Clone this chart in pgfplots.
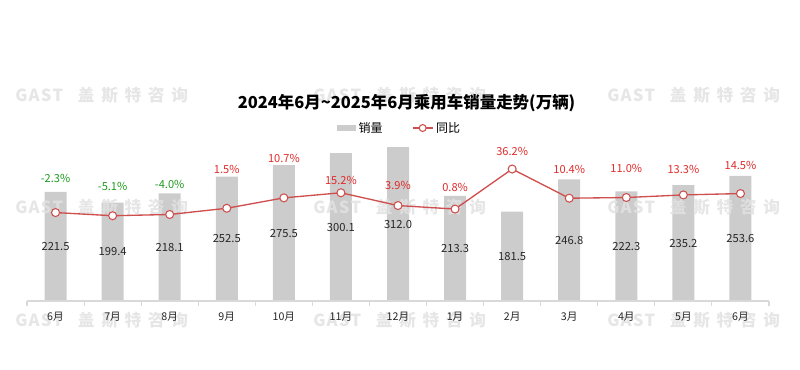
\documentclass[border=0pt]{standalone}
\usepackage{fontspec}
\setmainfont{Noto Sans CJK SC}
\usepackage{pgfplots}
\usepackage{pgfplotstable}
\pgfplotsset{compat=1.18}
\definecolor{barcol}{HTML}{CCCCCC}
\definecolor{linecol}{HTML}{CF4F4F}
\definecolor{redtxt}{HTML}{E02A2A}
\definecolor{greentxt}{HTML}{1E9A1E}
\definecolor{wmcol}{HTML}{E2E2E2}
\definecolor{axcol}{HTML}{D9D9D9}
\newcommand\wmtext{\bfseries\fontsize{12.5}{14}\selectfont\makebox[36pt][s]{G\hfill A\hfill S\hfill T}\hspace{8.5pt}\makebox[17.5pt]{盖}\makebox[17.5pt]{斯}\makebox[17.5pt]{特}\makebox[17.5pt]{咨}\makebox[17.5pt]{询}}
\pgfplotsset{
  barleg/.style={legend image code/.code={\fill[barcol] (0pt,-2.6pt) rectangle (14pt,2.6pt);}},
  lineleg/.style={legend image code/.code={\draw[##1, mark repeat=2, mark phase=2] plot coordinates {(0pt,0pt) (7.5pt,0pt) (15pt,0pt)};}},
}

\pgfplotstableread{
x v yoy ly
0 221.5 -2.3 28.2
1 199.4 -5.1 21.1
2 218.1 -4.0 22.9
3 252.5 1.5 36.2
4 275.5 10.7 45.9
5 300.1 15.2 26.4
6 312.0 3.9 22.0
7 213.3 0.8 20.2
8 181.5 36.2 52.1
9 246.8 10.4 36.2
10 222.3 11.0 37.1
11 235.2 13.3 36.2
12 253.6 14.5 39.7
}\datatable

\begin{document}
\begin{tikzpicture}
\path[use as bounding box] (0pt,0pt) rectangle (600pt,-276.75pt);

\begin{axis}[
  at={(20.25pt,-225.75pt)}, anchor=south west,
  scale only axis, width=556.5pt, height=127.5pt,
  xmin=-0.5, xmax=12.5, ymin=0, ymax=344.8,
  clip=false,
  axis lines=none,
  /pgf/number format/assume math mode=true,
  /pgf/number format/fixed,
  /pgf/number format/fixed zerofill,
  /pgf/number format/precision=1,
  legend style={at={(0.5027,1.0176)}, anchor=center, draw=none, fill=none,
    font=\fontsize{9}{10}\selectfont, inner sep=0pt,
    /tikz/every even column/.append style={column sep=20pt}},
  legend columns=2,
]
\addplot[ybar, fill=barcol, draw=none, bar width=16.5pt, barleg]
  table[x=x, y=v]{\datatable};
\addlegendentry{销量}
\addlegendimage{linecol, line width=1pt, mark=*, mark size=2.6pt, mark options={fill=white, draw=linecol, line width=0.8pt}, lineleg}
\addlegendentry{同比}
\addplot[draw=none, mark=none, forget plot, nodes near coords, point meta=explicit,
  nodes near coords style={anchor=center, font=\fontsize{8.4}{10}\selectfont, text=black!85}]
  table[x=x, y expr=\thisrow{v}/2, meta=v]{\datatable};
\end{axis}

\foreach \yy in {-71.25pt,-155.25pt,-240pt}{
  \foreach \xx in {11.25pt,234.75pt,455.25pt}{
    \node[anchor=west, inner sep=0pt, text=wmcol, opacity=0.85] at (\xx,\yy) {\wmtext};
  }
}

\begin{axis}[
  at={(20.25pt,-225.75pt)}, anchor=south west,
  scale only axis, width=556.5pt, height=127.5pt,
  xmin=-0.5, xmax=12.5, ymin=-80.5, ymax=69.8,
  clip=false,
  axis x line*=bottom, axis y line=none,
  x axis line style={axcol, line width=0.8pt},
  xtick={0,...,12},
  xticklabels={6月,7月,8月,9月,10月,11月,12月,1月,2月,3月,4月,5月,6月},
  major tick length=0pt,
  minor xtick={-0.5,0.5,...,12.5},
  minor tick length=3.75pt,
  tick align=outside,
  every minor tick/.style={axcol, line width=0.8pt},
  xticklabel style={font=\fontsize{8}{9}\selectfont, text=black!85, anchor=center, yshift=-12pt},
  /pgf/number format/assume math mode=true,
  /pgf/number format/fixed,
  /pgf/number format/fixed zerofill,
  /pgf/number format/precision=1,
]
\addplot[linecol, line width=1pt, mark=*, mark size=3pt,
  mark options={fill=white, draw=linecol, line width=0.8pt}]
  table[x=x, y=yoy]{\datatable};
\addplot[draw=none, mark=none, restrict x to domain=0:2,
  nodes near coords={\pgfmathprintnumber{\pgfplotspointmeta}\%}, point meta=explicit,
  nodes near coords style={anchor=center, font=\fontsize{8.3}{10}\selectfont, text=greentxt}]
  table[x=x, y=ly, meta=yoy]{\datatable};
\addplot[draw=none, mark=none, restrict x to domain=3:12,
  nodes near coords={\pgfmathprintnumber{\pgfplotspointmeta}\%}, point meta=explicit,
  nodes near coords style={anchor=center, font=\fontsize{8.3}{10}\selectfont, text=redtxt}]
  table[x=x, y=ly, meta=yoy]{\datatable};
\end{axis}

\node[font=\bfseries\fontsize{12.35}{15}\selectfont, anchor=center] at (304.9pt,-77.25pt) {2024年6月\textasciitilde 2025年6月乘用车销量走势(万辆)};
\end{tikzpicture}
\end{document}
